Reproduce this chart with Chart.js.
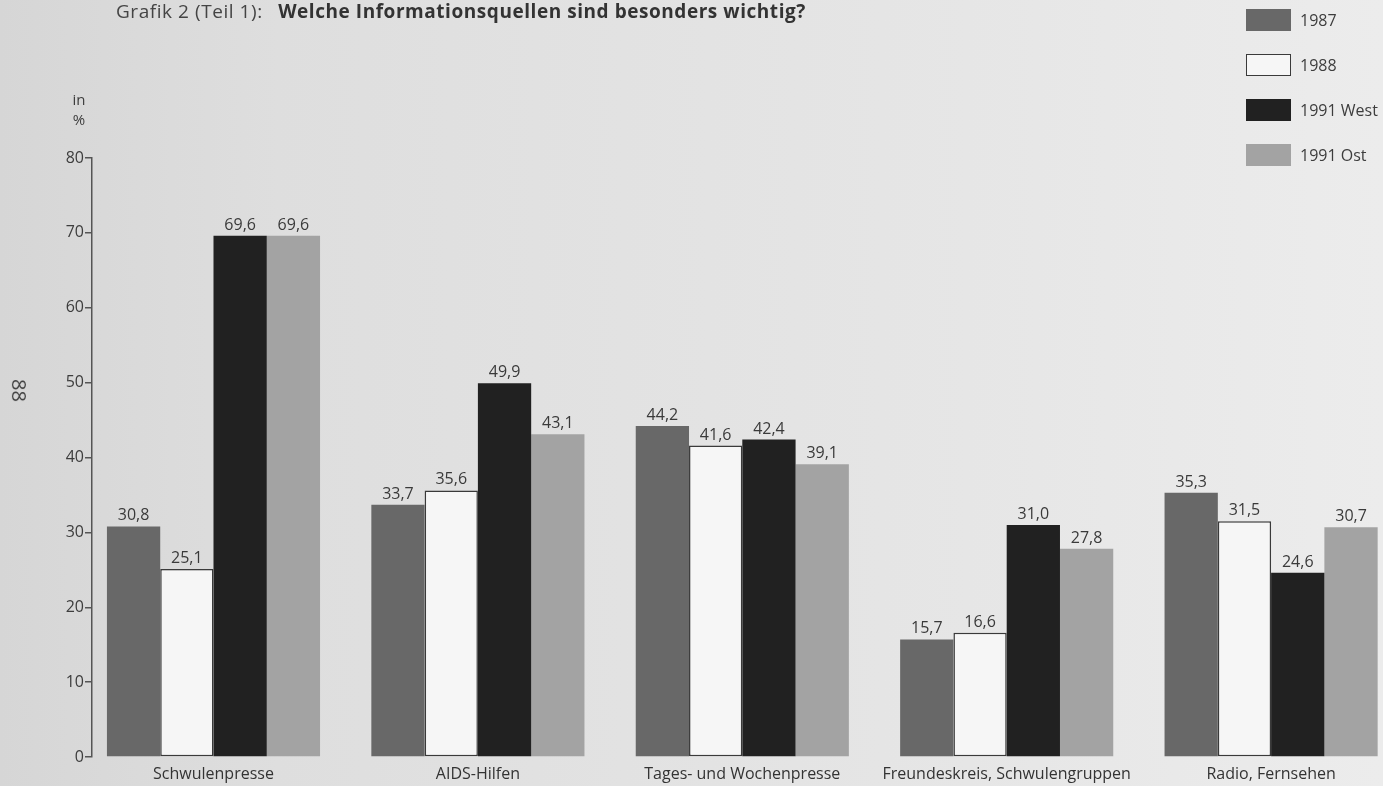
<!DOCTYPE html>
<html lang="de">
<head>
<meta charset="utf-8">
<title>Grafik 2 (Teil 1)</title>
<script src="https://cdn.jsdelivr.net/npm/chart.js@4.4.1/dist/chart.umd.min.js"></script>
<style>
  html, body { margin: 0; padding: 0; overflow: hidden; }
  body {
    width: 1383px; height: 786px; position: relative;
    font-family: "Open Sans", "Noto Sans", sans-serif; color: #3d3d3d;
    background: linear-gradient(90deg, #d6d6d6 0%, #dedede 20%, #e2e2e2 45%, #e6e6e6 70%, #ececec 100%);
  }
  #wrap { position: absolute; left: 0; top: 0; width: 1383px; height: 786px; }
  .title { position: absolute; left: 116px; top: -2px; font-size: 19px; letter-spacing: 0.55px; white-space: nowrap; color: #444; }
  .title b { margin-left: 10px; font-weight: 700; color: #333; }
  .unit { position: absolute; left: 64px; top: 89px; width: 30px; text-align: center; font-size: 15px; line-height: 20px; }
  .page { position: absolute; left: 8px; top: 377px; font-size: 20px; transform: rotate(90deg); }
  .legend { position: absolute; left: 1246px; top: 9px; list-style: none; margin: 0; padding: 0; }
  .legend li { display: flex; align-items: center; height: 22px; margin-bottom: 23px; font-size: 16px; }
  .legend span.box { width: 45px; height: 22px; margin-right: 9px; box-sizing: border-box; }
</style>
</head>
<body>
<div id="wrap"><canvas id="chart"></canvas></div>
<div class="title">Grafik 2 (Teil 1): <b>Welche Informationsquellen sind besonders wichtig?</b></div>
<div class="unit">in<br>%</div>
<div class="page">88</div>
<ul class="legend" id="legend"></ul>
<script>
const categories = ['Schwulenpresse', 'AIDS-Hilfen', 'Tages- und Wochenpresse', 'Freundeskreis, Schwulengruppen', 'Radio, Fernsehen'];
const seriesNames = ['1987', '1988', '1991 West', '1991 Ost'];
const values1987 = [30.8, 33.7, 44.2, 15.7, 35.3];
const values1988 = [25.1, 35.6, 41.6, 16.6, 31.5];
const values1991West = [69.6, 49.9, 42.4, 31.0, 24.6];
const values1991Ost = [69.6, 43.1, 39.1, 27.8, 30.7];
const yTicks = [0, 10, 20, 30, 40, 50, 60, 70, 80];

const fills = ['#686868', '#f6f6f6', '#212121', '#a3a3a3'];
const borders = ['#686868', '#3a3a3a', '#212121', '#a3a3a3'];
const allValues = [values1987, values1988, values1991West, values1991Ost];
const font = '"Open Sans", "Noto Sans", sans-serif';

const fmt = v => v.toFixed(1).replace('.', ',');

document.querySelector('#legend').innerHTML = seriesNames.map((name, i) => `
  <li><span class="box" style="background:${fills[i]};border:${i === 1 ? '1.5px solid ' + borders[i] : 'none'}"></span>${name}</li>
`).join('');

// value above each bar, German decimal comma
const valueLabels = {
  id: 'valueLabels',
  afterDatasetsDraw(chart) {
    const ctx = chart.ctx;
    ctx.save();
    ctx.font = `16px ${font}`;
    ctx.fillStyle = '#3a3a3a';
    ctx.textAlign = 'center';
    ctx.textBaseline = 'alphabetic';
    chart.data.datasets.forEach((ds, di) => {
      chart.getDatasetMeta(di).data.forEach((bar, i) => {
        ctx.fillText(fmt(ds.data[i].y), bar.x, bar.y - 6);
      });
    });
    ctx.restore();
  }
};

new Chart(document.getElementById('chart'), {
  type: 'bar',
  data: {
    datasets: seriesNames.map((name, s) => ({
      label: name,
      data: allValues[s].map((v, i) => ({ x: i, y: v })),
      backgroundColor: fills[s],
      borderColor: borders[s],
      borderWidth: s === 1 ? 1.5 : 0,
      borderSkipped: false,
      categoryPercentage: 0.806,
      barPercentage: 1.0
    }))
  },
  options: {
    responsive: true,
    maintainAspectRatio: false,
    animation: false,
    layout: { padding: { top: 158, left: 0, right: 0, bottom: 0 } },
    plugins: { legend: { display: false }, tooltip: { enabled: false } },
    scales: {
      x: {
        type: 'linear',
        min: -0.4595,
        max: 4.4232,
        bounds: 'data',
        offset: false,
        afterBuildTicks: scale => { scale.ticks = categories.map((c, i) => ({ value: i })); },
        grid: { display: false },
        border: { display: false },
        ticks: {
          autoSkip: false,
          maxRotation: 0,
          padding: 0,
          color: '#333',
          font: { family: font, size: 16 },
          callback: v => categories[Math.round(v)] ?? ''
        },
        afterFit: scale => { scale.height = 29; }
      },
      y: {
        min: 0,
        max: 80,
        afterBuildTicks: scale => { scale.ticks = yTicks.map(v => ({ value: v })); },
        grid: { drawOnChartArea: false, drawTicks: true, tickLength: 7, color: '#555', lineWidth: 1.5 },
        border: { display: true, color: '#555', width: 1.5 },
        ticks: {
          padding: 1,
          color: '#3d3d3d',
          font: { family: font, size: 16 }
        },
        afterFit: scale => { scale.width = 92; }
      }
    }
  },
  plugins: [valueLabels]
});
</script>
</body>
</html>
